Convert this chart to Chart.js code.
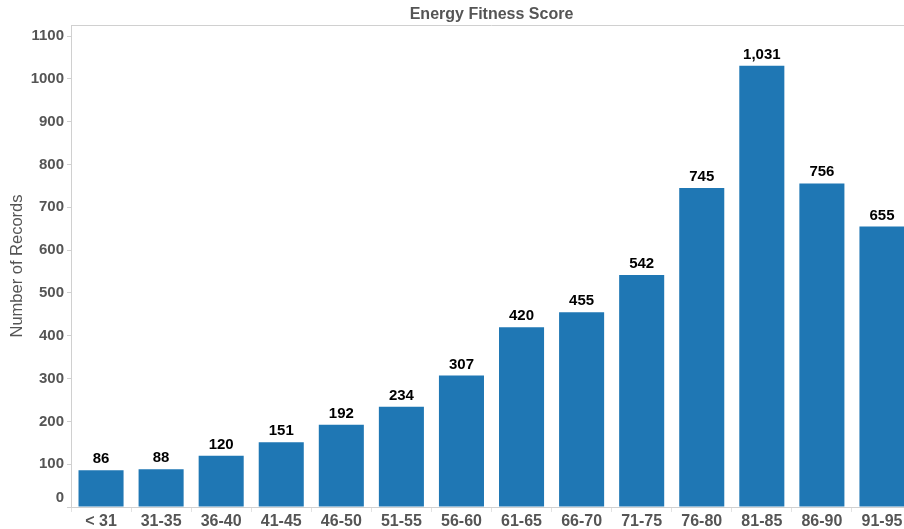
<!DOCTYPE html>
<html>
<head>
<meta charset="utf-8">
<script src="https://cdn.jsdelivr.net/npm/chart.js@4.4.1/dist/chart.umd.min.js"></script>
<style>
html,body{margin:0;padding:0;background:#fff;overflow:hidden;}
canvas{display:block;}
</style>
</head>
<body>
<canvas id="c" width="912" height="529"></canvas>
<script>
const categories = ['< 31','31-35','36-40','41-45','46-50','51-55','56-60','61-65','66-70','71-75','76-80','81-85','86-90','91-95'];
const records = [86, 88, 120, 151, 192, 234, 307, 420, 455, 542, 745, 1031, 756, 655];
const chartTitle = 'Energy Fitness Score';
const yAxisTitle = 'Number of Records';

const FONT = "'Liberation Sans', Arial, sans-serif";
const GRAY = '#555555';
const LINE = '#d0d0d0';

const decorPlugin = {
  id: 'decor',
  beforeDraw(chart) {
    const ys = chart.scales.y;
    const items = ys.getLabelItems();
    items.forEach(it => {
      if (it.label === '0' && !it._shifted) {
        it.options.translation = [it.options.translation[0], it.options.translation[1] - 9];
        it._shifted = true;
      }
    });
  },
  afterDraw(chart) {
    const ctx = chart.ctx, a = chart.chartArea;
    ctx.save();
    ctx.strokeStyle = LINE;
    ctx.lineWidth = 1;
    ctx.beginPath();
    ctx.moveTo(a.left, 25.5);
    ctx.lineTo(chart.width, 25.5);
    ctx.stroke();
    ctx.fillStyle = GRAY;
    ctx.font = 'bold 16px ' + FONT;
    ctx.textAlign = 'center';
    ctx.textBaseline = 'middle';
    ctx.fillText(chartTitle, (a.left + a.right) / 2, 15);
    ctx.restore();
  },
  afterDatasetsDraw(chart) {
    const ctx = chart.ctx;
    const meta = chart.getDatasetMeta(0);
    ctx.save();
    ctx.fillStyle = '#000';
    ctx.font = 'bold 15px ' + FONT;
    ctx.textAlign = 'center';
    ctx.textBaseline = 'alphabetic';
    meta.data.forEach((bar, i) => {
      ctx.fillText(records[i].toLocaleString('en-US'), bar.x, bar.y - 7);
    });
    ctx.restore();
  }
};

new Chart(document.getElementById('c'), {
  type: 'bar',
  data: {
    labels: categories,
    datasets: [{
      data: records,
      backgroundColor: '#1f77b4',
      borderWidth: 0,
      barPercentage: 0.75,
      categoryPercentage: 1.0
    }]
  },
  options: {
    responsive: false,
    animation: false,
    devicePixelRatio: 1,
    layout: { padding: { top: 25, left: 0, right: 0, bottom: 0 } },
    plugins: {
      legend: { display: false },
      tooltip: { enabled: false },
      title: { display: false }
    },
    scales: {
      x: {
        grid: { display: true, drawOnChartArea: false, offset: true, tickLength: 5, color: '#e2e2e2' },
        border: { display: true, color: LINE },
        ticks: { color: GRAY, font: { family: FONT, size: 16, weight: 'bold' }, padding: 0, maxRotation: 0, autoSkip: false },
        afterFit(s) { s.height = 22; }
      },
      y: {
        min: 0,
        max: 1126,
        grid: { display: true, drawOnChartArea: false, tickLength: 4, color: LINE },
        border: { display: true, color: LINE },
        ticks: { stepSize: 100, includeBounds: false, color: GRAY, font: { family: FONT, size: 15, weight: 'bold' }, padding: 3,
                 callback: v => String(v) },
        title: { display: true, text: yAxisTitle, color: GRAY, font: { family: FONT, size: 16.5 }, padding: { top: 8, bottom: 0 } },
        afterFit(s) { s.width = 71; }
      }
    }
  },
  plugins: [decorPlugin]
});
</script>
</body>
</html>
